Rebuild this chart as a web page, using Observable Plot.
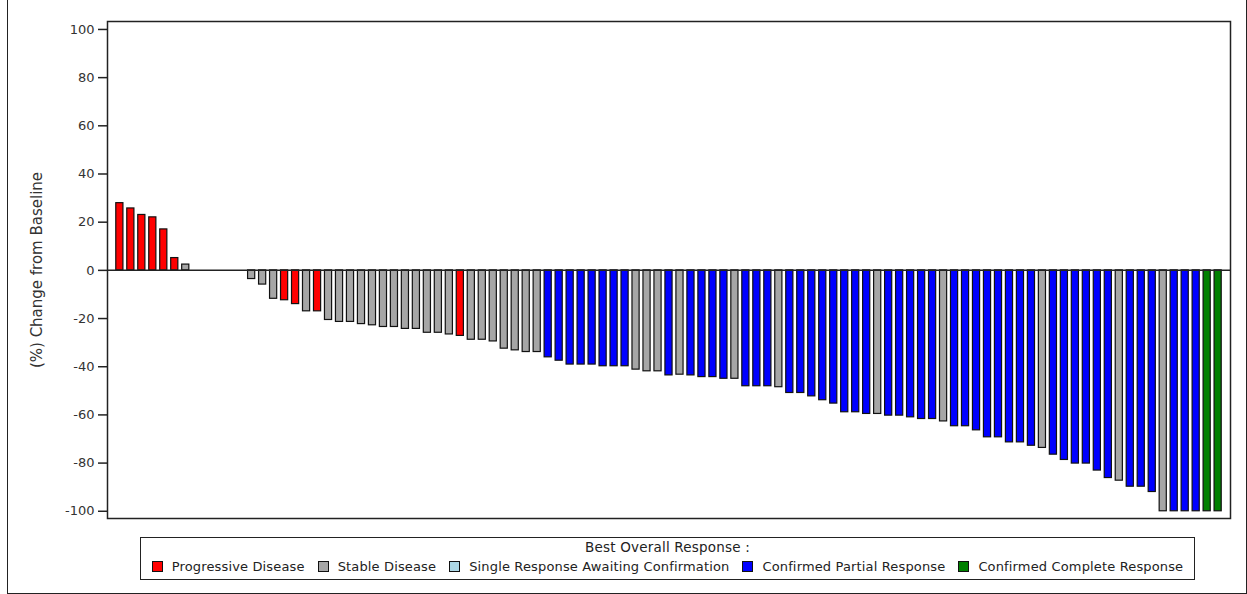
<!DOCTYPE html>
<html>
<head>
<meta charset="utf-8">
<script src="https://cdn.jsdelivr.net/npm/d3@7"></script>
<script src="https://cdn.jsdelivr.net/npm/@observablehq/plot@0.6"></script>
<style>
  html, body { margin: 0; padding: 0; background: #fff; }
  body { width: 1247px; height: 594px; position: relative; overflow: hidden; font-family: "DejaVu Sans", sans-serif; }
  #chart { position: absolute; left: 0; top: 0; }
  #chart svg { overflow: visible; }
  #chart g[aria-label="y-axis label"] text { font-size: 15px; }
  .outer { position: absolute; left: 7px; top: 0; width: 1240px; height: 594px; box-sizing: border-box;
           border-left: 1.5px solid #222; border-right: 1.5px solid #222; border-bottom: 1.5px solid #222; pointer-events: none; }
  .legend { position: absolute; left: 140px; top: 537px; width: 1055px; height: 43px; box-sizing: border-box;
            border: 1.5px solid #222; color: #222; font-size: 13px; white-space: nowrap; }
  .legend .title { text-align: center; margin-top: 2px; line-height: 15px; font-size: 13.5px; letter-spacing: 0.2px; }
  .legend .items { display: flex; justify-content: center; align-items: center; margin-top: 4px; line-height: 15px; letter-spacing: 0.15px; }
  .legend .item { display: flex; align-items: center; margin: 0 6.5px; flex: none; white-space: nowrap; }
  .legend .sw { width: 9px; height: 9px; border: 1px solid #111; margin-right: 9px; flex: none; }
</style>
</head>
<body>
<div id="chart"></div>
<div class="outer"></div>
<div class="legend" id="legend"></div>
<script>
// Response categories and their fill colours
const responseCategories = [
  "Progressive Disease",
  "Stable Disease",
  "Single Response Awaiting Confirmation",
  "Confirmed Partial Response",
  "Confirmed Complete Response"
];
const responseColors = ["#ff0000", "#a6a6a6", "#add8e6", "#0000ff", "#008000"];

// Best % change from baseline per patient, sorted (null = no post-baseline measurement)
const changePct = [
  27.9, 25.7, 23.0, 22.0, 17.0, 5.1, 2.4,
  null, null, null, null, null,
  -3.6, -5.9, -11.8, -12.4, -14.0, -17.0, -17.0, -20.6, -21.4, -21.4,
  -22.3, -22.8, -23.5, -23.5, -24.3, -24.3, -25.9, -25.9, -26.6, -27.2,
  -28.8, -28.8, -29.5, -32.5, -33.2, -33.9, -33.9, -36.1, -37.5, -39.1,
  -39.1, -39.1, -39.8, -39.8, -39.8, -41.2, -41.9, -41.9, -43.6, -43.3,
  -43.6, -44.3, -44.3, -45.0, -45.0, -48.1, -48.1, -48.1, -48.5, -50.9,
  -50.9, -52.3, -53.9, -55.3, -58.9, -58.9, -59.6, -59.6, -60.3, -60.3,
  -61.0, -61.7, -61.7, -62.7, -64.7, -64.7, -66.4, -69.3, -69.3, -71.4,
  -71.4, -72.8, -73.7, -76.5, -78.7, -80.2, -80.2, -83.1, -86.2, -87.3,
  -89.8, -89.8, -92.0, -100, -100, -100, -100, -100, -100
];

// Best overall response code per patient: PD, SD, SRAC, PR, CR
const bestResponse = [
  "PD", "PD", "PD", "PD", "PD", "PD", "SD",
  "SD", "SD", "SD", "SD", "SD",
  "SD", "SD", "SD", "PD", "PD", "SD", "PD", "SD", "SD", "SD",
  "SD", "SD", "SD", "SD", "SD", "SD", "SD", "SD", "SD", "PD",
  "SD", "SD", "SD", "SD", "SD", "SD", "SD", "PR", "PR", "PR",
  "PR", "PR", "PR", "PR", "PR", "SD", "SD", "SD", "PR", "SD",
  "PR", "PR", "PR", "PR", "SD", "PR", "PR", "PR", "SD", "PR",
  "PR", "PR", "PR", "PR", "PR", "PR", "PR", "SD", "PR", "PR",
  "PR", "PR", "PR", "SD", "PR", "PR", "PR", "PR", "PR", "PR",
  "PR", "PR", "SD", "PR", "PR", "PR", "PR", "PR", "PR", "SD",
  "PR", "PR", "PR", "SD", "PR", "PR", "PR", "CR", "CR"
];
const responseCodes = ["PD", "SD", "SRAC", "PR", "CR"];

const yTicks = [-100, -80, -60, -40, -20, 0, 20, 40, 60, 80, 100];

const patients = changePct.map((v, i) => ({
  id: i + 1,
  change: v,
  response: responseCategories[responseCodes.indexOf(bestResponse[i])]
}));

const chart = Plot.plot({
  width: 1247,
  height: 527,
  marginLeft: 107,
  marginRight: 17,
  marginTop: 21,
  marginBottom: 9,
  style: { fontFamily: "DejaVu Sans, sans-serif", fontSize: "13px", color: "#333", background: "transparent" },
  x: { type: "band", domain: patients.map(d => d.id), paddingInner: 0.35, paddingOuter: 0.8, axis: null },
  y: { domain: [-103, 103.3], ticks: yTicks, label: "(%) Change from Baseline" },
  color: { domain: responseCategories, range: responseColors },
  marks: [
    Plot.barY(patients, { x: "id", y: "change", fill: "response", stroke: "#111", strokeWidth: 1.2 }),
    Plot.ruleY([0], { stroke: "#222", strokeWidth: 1.5 }),
    Plot.axisY({
      ticks: yTicks,
      tickSize: 9,
      tickPadding: 4,
      tickFormat: d => String(d),
      label: "(%) Change from Baseline",
      labelAnchor: "center",
      labelArrow: "none",
      labelOffset: 76,
      stroke: "#222",
      strokeWidth: 1.5
    }),
    Plot.frame({ stroke: "#222", strokeWidth: 1.5 })
  ]
});
document.getElementById("chart").appendChild(chart);

// Legend box below the plot
const legend = document.getElementById("legend");
const title = document.createElement("div");
title.className = "title";
title.textContent = "Best Overall Response :";
legend.appendChild(title);
const items = document.createElement("div");
items.className = "items";
responseCategories.forEach((name, i) => {
  const it = document.createElement("div");
  it.className = "item";
  const sw = document.createElement("span");
  sw.className = "sw";
  sw.style.background = responseColors[i];
  const tx = document.createElement("span");
  tx.textContent = name;
  it.appendChild(sw);
  it.appendChild(tx);
  items.appendChild(it);
});
legend.appendChild(items);
</script>
</body>
</html>
